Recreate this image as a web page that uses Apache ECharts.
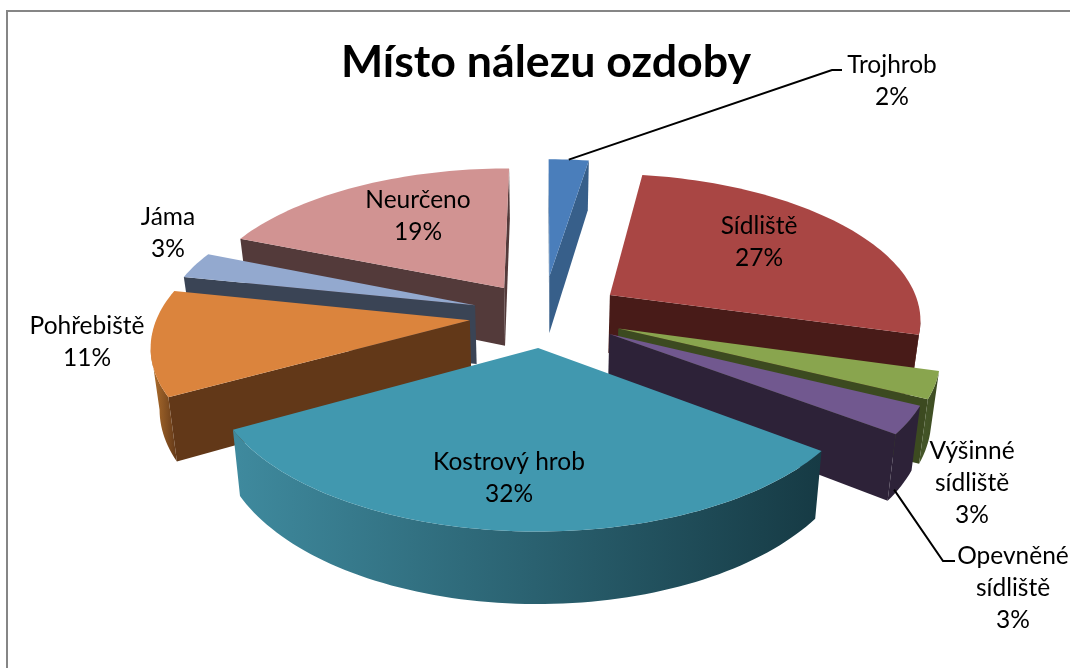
<!DOCTYPE html>
<html><head><meta charset="utf-8">
<style>html,body{margin:0;padding:0;background:#fff}#c{width:1070px;height:668px}</style>
<script src="https://cdn.jsdelivr.net/npm/echarts@6/dist/echarts.min.js"></script>
</head><body><div id="c"></div>
<script>
const categories = ['Trojhrob','Sídliště','Výšinné sídliště','Opevněné sídliště','Kostrový hrob','Pohřebiště','Jáma','Neurčeno'];
const values = [2.45,26.95,2.9,3,31.6,11.4,2.9,18.8];
const explode = [0.28,0.26,0.255,0.245,0.22,0.236,0.23,0.23];
const topColors = ['#4a7ebb','#a94644','#89a54e','#71588f','#4198af','#db843d','#93a9cf','#d19392'];
const wallColors = ['#375f8a','#481b18','#3c4a20','#2d2238','#24566a','#623818','#3a4455','#533a3a'];
const arcStart = ['#375f8a','#5a211e','#46582a','#2d2238','#3f8a9e','#b5732f','#3a4455','#6b4a4a'];
const arcEnd = ['#375f8a','#481b18','#3c4a20','#2d2238','#163a44','#623818','#3a4455','#533a3a'];

const labelLines = [['Trojhrob'],['Sídliště'],['Výšinné','sídliště'],['Opevněné','sídliště'],['Kostrový hrob'],['Pohřebiště'],['Jáma'],['Neurčeno']];
const labelPos = [[892,81],[759,242],[972,483],[1013,588],[509,478],[87,342],[168,233],[418,216]];
const leaders = [{i:0,frac:0.5,z:0,elbow:[832,70],end:[842,70]},{i:3,frac:0.8,z:0.92,elbow:[943,561],end:[955,561]}];

const CX=543, CY=315, SCALE=312, TILT=0.465, PERSP=0.15, DEPTH=0.19, CONVERGE=0.12;
const px=(x,y)=>[(x-CX)/SCALE,(y-CY)/SCALE];
function proj(X,Y,Z){const s=1/(1-PERSP*Y);return [X*s*(1-CONVERGE*Z),(Y*TILT+Z)*s];}
const total=values.reduce((a,b)=>a+b,0);
let acc=0;
const slices=values.map(v=>{const a0=acc/total*2*Math.PI;acc+=v;const a1=acc/total*2*Math.PI;return{a0,a1,mid:(a0+a1)/2};});
function apexOf(i){const m=slices[i].mid;return [explode[i]*Math.sin(m),-explode[i]*Math.cos(m)];}
function pt(i,a,r,Z){const c=apexOf(i);return proj(c[0]+r*Math.sin(a),c[1]-r*Math.cos(a),Z);}

function renderSlice(params,api){
  const i=api.value(1), sl=slices[i];
  const c=p=>api.coord(p);
  const N=Math.max(6,Math.round((sl.a1-sl.a0)*40));
  const arcT=[],arcB=[];
  for(let k=0;k<=N;k++){const a=sl.a0+(sl.a1-sl.a0)*k/N;arcT.push(pt(i,a,1,0));arcB.push(pt(i,a,1,DEPTH));}
  const apT=pt(i,0,0,0), apB=pt(i,0,0,DEPTH);
  const children=[];
  const wall=(p,q,qb,pb)=>children.push({type:'polygon',shape:{points:[p,q,qb,pb].map(c)},style:{fill:wallColors[i]}});
  if(arcT[0][0]<apT[0]) wall(apT,arcT[0],arcB[0],apB);
  if(apT[0]<arcT[N][0]) wall(arcT[N],apT,apB,arcB[N]);
  const run=[],runB=[];
  for(let k=0;k<N;k++){if(arcT[k+1][0]<arcT[k][0]){if(!run.length){run.push(arcT[k]);runB.push(arcB[k]);}run.push(arcT[k+1]);runB.push(arcB[k+1]);}}
  if(run.length){
    children.push({type:'polygon',shape:{points:run.concat(runB.slice().reverse()).map(c)},
      style:{fill:new echarts.graphic.LinearGradient(0,0,1,0,[{offset:0,color:arcStart[i]},{offset:1,color:arcEnd[i]}])}});
  }
  children.push({type:'polygon',shape:{points:[apT].concat(arcT).map(c)},style:{fill:topColors[i]}});
  return {type:'group',children};
}
function renderLabel(params,api){
  const i=api.value(1);
  const children=[];
  const lead=leaders.find(l=>l.i===i);
  if(lead){
    const a=slices[i].a0+(slices[i].a1-slices[i].a0)*lead.frac;
    const st=pt(i,a,1,DEPTH*lead.z);
    children.push({type:'polyline',shape:{points:[api.coord(st),api.coord(px(...lead.elbow)),api.coord(px(...lead.end))]},style:{stroke:'#000',lineWidth:2,fill:null}});
  }
  const p=api.coord(px(...labelPos[i]));
  const text=labelLines[i].concat(Math.round(values[i]/total*100)+'%').join('\n');
  children.push({type:'text',x:p[0],y:p[1],style:{text,fill:'#000',font:'24.5px Lato',align:'center',verticalAlign:'middle',lineHeight:32}});
  return {type:'group',children};
}
const order=values.map((v,i)=>i).sort((a,b)=>-Math.cos(slices[a].mid)+Math.cos(slices[b].mid));
const chart=echarts.init(document.getElementById('c'),null,{renderer:'canvas'});
chart.setOption({
  animation:false,backgroundColor:'#fff',
  title:{text:'Místo nálezu ozdoby',left:541,top:35,textAlign:'center',textStyle:{fontFamily:'Lato',fontWeight:'bold',fontSize:44.7,color:'#000'}},
  graphic:[{type:'rect',shape:{x:7,y:11,width:1090,height:700},style:{fill:null,stroke:'#868686',lineWidth:2},silent:true,z:-1}],
  grid:{left:0,right:0,top:0,bottom:0},
  xAxis:{type:'value',show:false,min:-CX/SCALE,max:(1070-CX)/SCALE},
  yAxis:{type:'value',show:false,inverse:true,min:-CY/SCALE,max:(668-CY)/SCALE},
  tooltip:{show:false},
  series:[
   {type:'custom',name:'Místo nálezu ozdoby',coordinateSystem:'cartesian2d',clip:false,silent:true,renderItem:renderSlice,encode:{x:0,y:0},
    data:order.map(i=>({name:categories[i],value:[values[i],i]})),z:2},
   {type:'custom',name:'labels',coordinateSystem:'cartesian2d',clip:false,silent:true,renderItem:renderLabel,encode:{x:0,y:0},
    data:order.map(i=>({name:categories[i],value:[values[i],i]})),z:3}
  ]
});
</script></body></html>
